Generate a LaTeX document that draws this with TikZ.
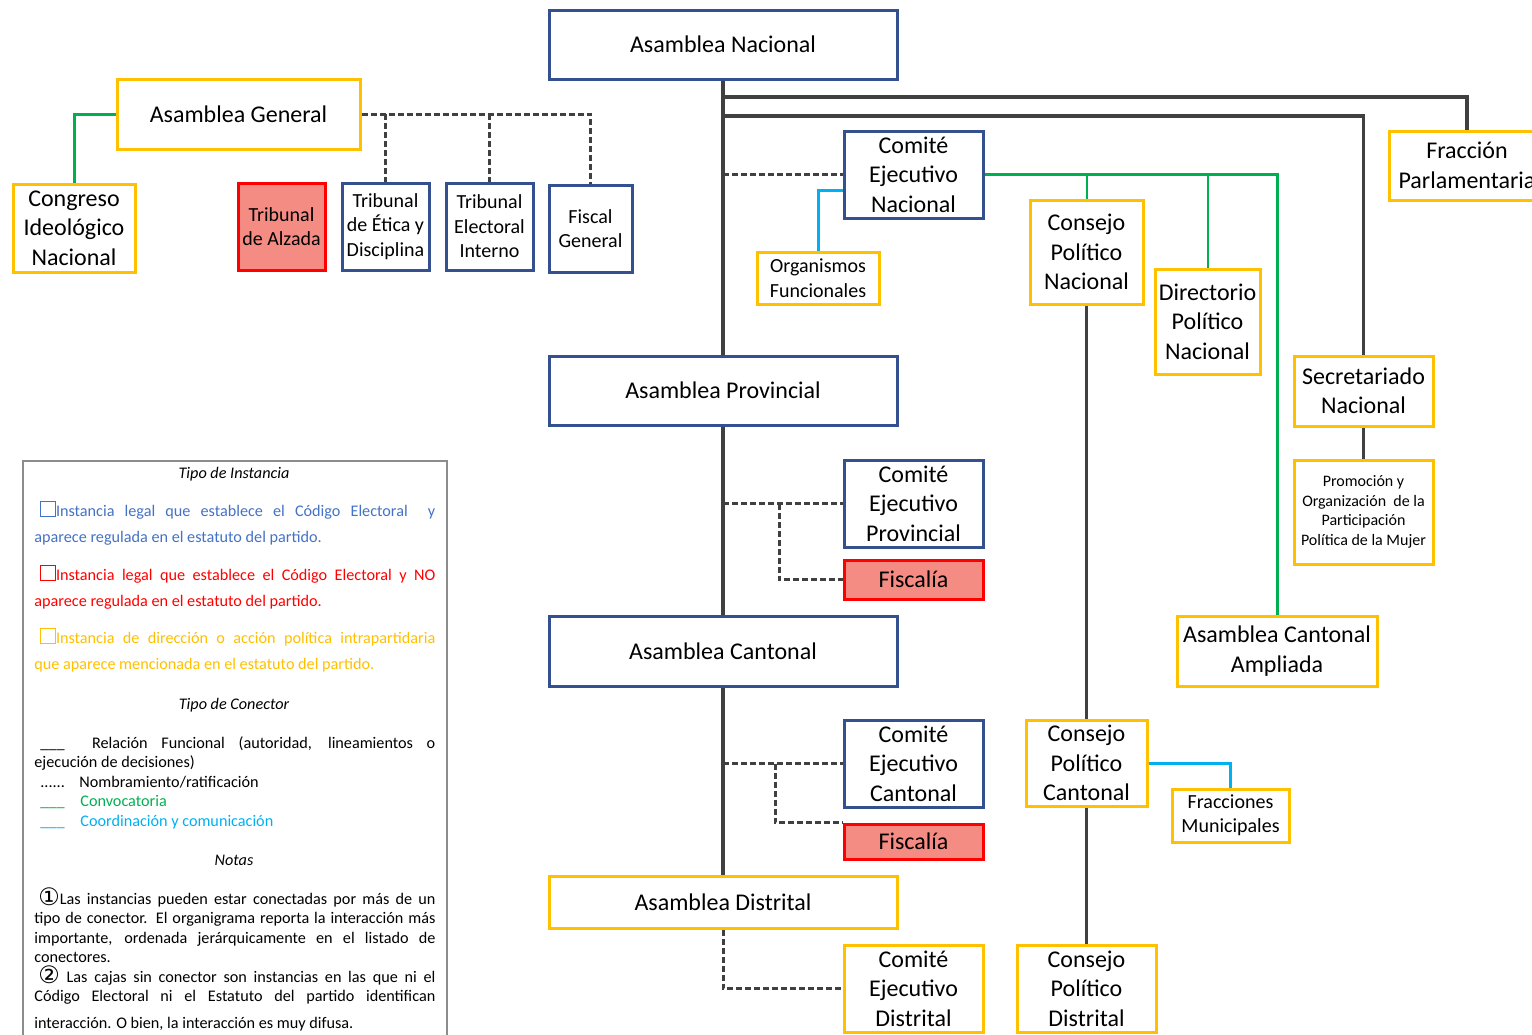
\documentclass[tikz,border=0pt]{standalone}
\usepackage{fontspec}
\setmainfont{Carlito}
\newfontfamily\circfont{DejaVu Sans}
\usetikzlibrary{calc}
\definecolor{cblue}{HTML}{34508F}
\definecolor{cyellow}{HTML}{FFC000}
\definecolor{cred}{HTML}{FF0000}
\definecolor{cpink}{HTML}{F58C84}
\definecolor{cline}{HTML}{404040}
\definecolor{cgreen}{HTML}{00B050}
\definecolor{ccyan}{HTML}{00B0F0}
\definecolor{ctext}{HTML}{4472C4}
\definecolor{cframe}{HTML}{8C8C8C}
\newcommand{\fbig}{\fontsize{12}{14.7}\selectfont}
\newcommand{\fmid}{\fontsize{10}{12.2}\selectfont}
\newcommand{\fsmall}{\fontsize{8.1}{9.75}\selectfont}
\newcommand{\chk}[1]{{\color{#1}\setlength{\fboxsep}{0pt}\fbox{\rule{0pt}{7pt}\hspace{7pt}}}}
\newcommand{\circnum}[1]{\smash{\raisebox{-0.6pt}{\circfont\fontsize{12}{12}\selectfont #1}}}
\begin{document}
\begin{tikzpicture}[x=0.5pt,y=-0.5pt,
 caja/.style={draw, line width=1.5pt, fill=white, align=center, inner sep=1pt, font=\fbig},
 org/.style={caja, draw=cblue},
 intra/.style={caja, draw=cyellow},
 nreg/.style={caja, draw=cred, fill=cpink},
 sz/.style 2 args={minimum width=#1*0.5pt, minimum height=#2*0.5pt},
 func/.style={draw=cline, line width=1.6pt},
 nomb/.style={draw=cline, line width=1.5pt, dash pattern=on 3pt off 1.5pt},
 conv/.style={draw=cgreen, line width=1.5pt},
 coord/.style={draw=ccyan, line width=1.5pt},
 leyenda/.style={anchor=base west, inner sep=0pt, text width=200.5pt, align=justify},
 linea/.style={anchor=base west, inner sep=0pt, font=\fsmall}]
\useasboundingbox (0,0) rectangle (1532,1034);
\clip (0,0) rectangle (1532,1034);

% instancias nacionales
\node[org, sz={348}{69}] (AN) at (723,44.5) {Asamblea Nacional};
\node[intra, sz={243}{70}] (AG) at (238.5,114) {Asamblea General};
\node[intra, sz={122}{88}] (CIN) at (74,228) {Congreso\\Ideológico\\Nacional};
\node[nreg, sz={87}{87}, font=\fmid] (TA) at (281.5,226.5) {Tribunal\\de Alzada};
\node[org, sz={87}{87}, font=\fmid] (TED) at (385.5,226.5) {Tribunal\\de Ética y\\Disciplina};
\node[org, sz={87}{87}, font=\fmid] (TEI) at (489.5,226.5) {Tribunal\\Electoral\\Interno};
\node[org, sz={83}{87}, font=\fmid] (FG) at (590.5,228.5) {Fiscal\\General};
\node[org, sz={139}{87}] (CEN) at (913.5,174.5) {Comité\\Ejecutivo\\Nacional};
\node[intra, sz={122}{52}, font=\fmid] (OF) at (818,278) {Organismos\\Funcionales};
\node[intra, sz={113}{104}] (CPN) at (1086.5,252) {Consejo\\Político\\Nacional};
\node[intra, sz={105}{105}] (DPN) at (1207.5,321.5) {Directorio\\Político\\Nacional};
\node[intra, sz={156}{69}] (FP) at (1467,165.5) {Fracción\\Parlamentaria};
\node[intra, sz={139}{70}] (SN) at (1363.5,391) {Secretariado\\Nacional};
\node[intra, sz={139}{104}, font=\fontsize{8}{9.75}\selectfont] (PO) at (1363.5,512) {Promoción y\\Organización\ \ de la\\Participación\\Política de la Mujer};

% provincia, canton, distrito
\node[org, sz={348}{69}] (AP) at (723,390.5) {Asamblea Provincial};
\node[org, sz={139}{87}] (CEP) at (913.5,503.5) {Comité\\Ejecutivo\\Provincial};
\node[nreg, sz={139}{39}] (FisP) at (913.5,579.5) {Fiscalía};
\node[intra, sz={200}{70}] (ACA) at (1277,651) {Asamblea Cantonal\\Ampliada};
\node[org, sz={348}{70}] (AC) at (723,651) {Asamblea Cantonal};
\node[org, sz={139}{87}] (CEC) at (913.5,763.5) {Comité\\Ejecutivo\\Cantonal};
\node[nreg, sz={139}{35}] (FisC) at (913.5,841.5) {Fiscalía};
\node[intra, sz={121}{86}] (CPC) at (1086.5,763) {Consejo\\Político\\Cantonal};
\node[intra, sz={117}{53}, font=\fmid] (FM) at (1230.5,815.5) {Fracciones\\Municipales};
\node[intra, sz={348}{52}] (AD) at (723,902) {Asamblea Distrital};
\node[intra, sz={139}{87}] (CED) at (913.5,988.5) {Comité\\Ejecutivo\\Distrital};
\node[intra, sz={139}{87}] (CPD) at (1086.5,988.5) {Consejo\\Político\\Distrital};

% conectores
\coordinate (kFP) at (723,97);
\coordinate (kSN) at (723,116);
\draw[func] (AN.south) -- (AP.north);
\draw[func] (AP.south) -- (AC.north);
\draw[func] (AC.south) -- (AD.north);
\draw[func] (kFP) -| (FP.north);
\draw[func] (kSN) -| (SN.north);
\draw[func] (SN.south) -- (PO.north);
\draw[func, line width=1.2pt] (CPN.south) -- (CPC.north);
\draw[func, line width=1.2pt] (CPC.south) -- (CPD.north);
\draw[nomb] (CEN.west -| AN.south) -- (CEN.west);
\draw[coord] ($(CEN.west)+(0,15.5)$) -| (OF.north);
\draw[conv] (CEN.east) -| (ACA.north);
\draw[conv, line width=1pt] (CEN.east -| CPN.north) -- (CPN.north);
\draw[conv, line width=1pt] (CEN.east -| DPN.north) -- (DPN.north);
\draw[coord] (CPC.east) -| (FM.north);
\draw[conv] (AG.west) -| (CIN.north);
\draw[nomb] (AG.east) -| (FG.north);
\draw[nomb] (AG.east -| TED.north) -- (TED.north);
\draw[nomb] (AG.east -| TEI.north) -- (TEI.north);
\draw[nomb] (CEP.west -| AP.south) -- (CEP.west);
\draw[nomb] ($(CEP.west -| AP.south)+(56,0)$) |- (FisP.west);
\draw[nomb] (CEC.west -| AC.south) -- (CEC.west);
\draw[nomb] ($(CEC.west -| AC.south)+(52,0)$) |- (FisC.north west);
\draw[nomb] (AD.south) |- (CED.west);

% leyenda
\node[draw=cframe, line width=1pt, sz={424}{600}, anchor=north west] (LEG) at (22,460) {};
\node[anchor=base, font=\fsmall\itshape] (tI) at (234,478) {Tipo de Instancia};
\node[leyenda, text=ctext, font=\fontsize{8.1}{13}\selectfont] (l1) at (34,516)
 {\hspace*{3pt}\chk{ctext}Instancia legal que establece el Código Electoral\ \ y\linebreak aparece regulada en el estatuto del partido.};
\node[leyenda, text=cred, font=\fontsize{8.1}{13}\selectfont] (l2) at (34,580)
 {\hspace*{3pt}\chk{cred}Instancia legal que establece el Código Electoral y NO\linebreak aparece regulada en el estatuto del partido.};
\node[leyenda, text=cyellow, font=\fontsize{8.1}{13}\selectfont] (l3) at (34,643)
 {\hspace*{3pt}\chk{cyellow}Instancia de dirección o acción política intrapartidaria\linebreak que aparece mencionada en el estatuto del partido.};
\node[anchor=base, font=\fsmall\itshape] (tC) at (234,709) {Tipo de Conector};
\node[leyenda, font=\fsmall] (c1) at (34,748)
 {\hspace*{3pt}\_\_\_\ \ Relación Funcional (autoridad, lineamientos o\linebreak ejecución de decisiones)};
\node[linea] (c2) at (40,787) {\makebox[19.5pt][l]{......}Nombramiento/ratificación};
\node[linea, text=cgreen] (c3) at (40,806) {\makebox[20pt][l]{\_\_\_}Convocatoria};
\node[linea, text=ccyan] (c4) at (40,826) {\makebox[20pt][l]{\_\_\_}Coordinación y comunicación};
\node[anchor=base, font=\fsmall\itshape] (tN) at (234,865) {Notas};
\node[leyenda, font=\fsmall] (n1) at (34,904)
 {\hspace*{2pt}\circnum{①}Las instancias pueden estar conectadas por más de un\linebreak
 tipo de conector. El organigrama reporta la interacción más\linebreak
 importante, ordenada jerárquicamente en el listado de\linebreak
 conectores.\par
 \hspace*{2pt}\circnum{②} Las cajas sin conector son instancias en las que ni el\linebreak
 Código Electoral ni el Estatuto del partido identifican\vadjust{\vskip 3.5pt}\linebreak
 interacción. O bien, la interacción es muy difusa.};
\end{tikzpicture}
\end{document}
